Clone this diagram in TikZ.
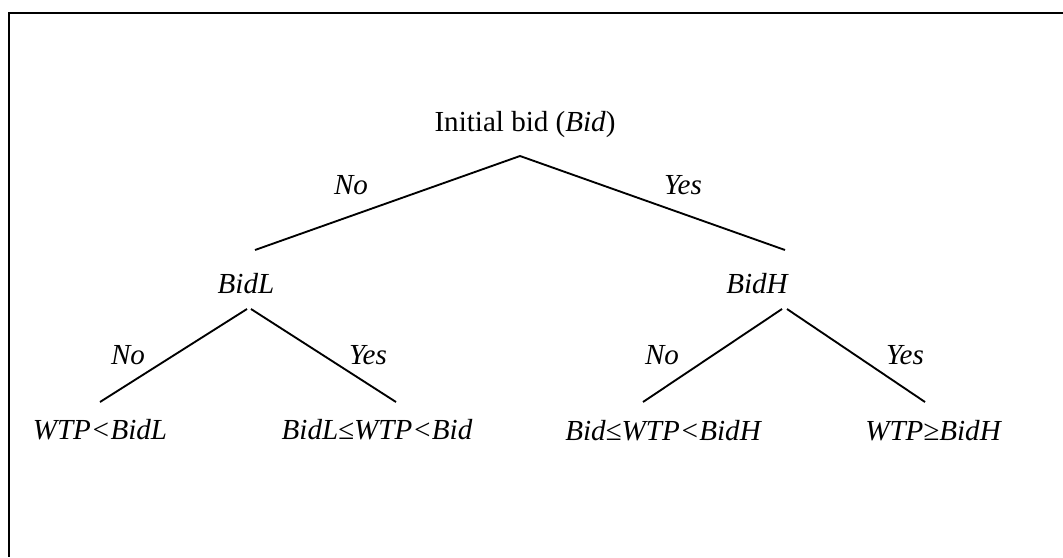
\documentclass[tikz,border=0pt]{standalone}
\usepackage{fontspec}
\setmainfont{Liberation Serif}
\begin{document}
\begin{tikzpicture}[x=0.75pt,y=-0.75pt,
  every node/.style={inner sep=0pt,anchor=base,font=\fontsize{21.8}{26}\selectfont},
  lbl/.style={font=\fontsize{21.8}{26}\selectfont\itshape},
  branch/.style={line width=1.4pt},
  frame/.style={line width=1.6pt}]
\useasboundingbox (0,0) rectangle (1063,557);
% open frame: top and left sides only
\draw[frame] (1063,13) -- (9,13) -- (9,557);

% decision nodes
\node (root) at (525,131) {Initial bid (\textit{Bid})};
\node[lbl] (bidL) at (246,293) {BidL};
\node[lbl] (bidH) at (757,293) {BidH};

% outcomes
\node[lbl] (o1) at (100,439) {WTP<BidL};
\node[lbl] (o2) at (377,439) {BidL≤WTP<Bid};
\node[lbl] (o3) at (663,440) {Bid≤WTP<BidH};
\node[lbl] (o4) at (933,440) {WTP≥BidH};

% branch end points
\coordinate (rootA) at (520,156);
\coordinate (bidLtop) at (255,250);
\coordinate (bidHtop) at (785,250);
\coordinate (bidLA) at (247,309);
\coordinate (bidLB) at (251,309);
\coordinate (bidHA) at (782,309);
\coordinate (bidHB) at (787,309);
\coordinate (o1top) at (100,402);
\coordinate (o2top) at (396,402);
\coordinate (o3top) at (643,402);
\coordinate (o4top) at (925,402);

\draw[branch] (bidLtop) -- (rootA) -- (bidHtop);
\draw[branch] (o1top) -- (bidLA);
\draw[branch] (bidLB) -- (o2top);
\draw[branch] (o3top) -- (bidHA);
\draw[branch] (bidHB) -- (o4top);

% branch labels
\node[lbl] (n1) at (351,194) {No};
\node[lbl] (y1) at (683,194) {Yes};
\node[lbl] (n2) at (128,364) {No};
\node[lbl] (y2) at (368,364) {Yes};
\node[lbl] (n3) at (662,364) {No};
\node[lbl] (y3) at (905,364) {Yes};
\end{tikzpicture}
\end{document}
